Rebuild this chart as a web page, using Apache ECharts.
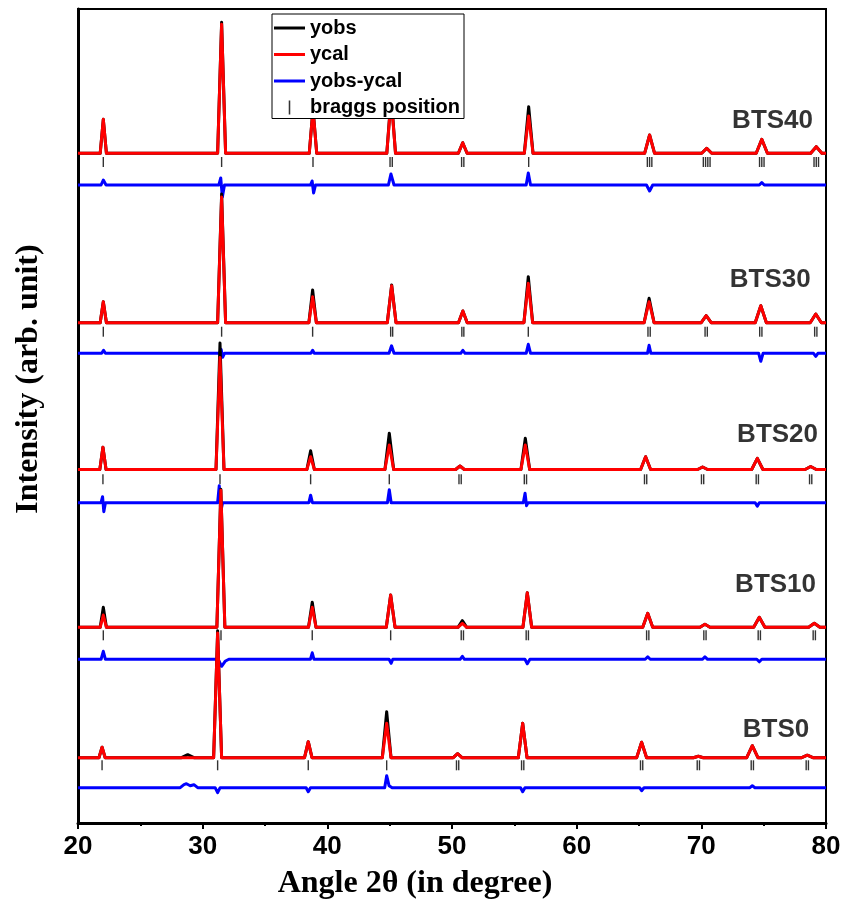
<!DOCTYPE html>
<html>
<head>
<meta charset="utf-8">
<script src="https://cdn.jsdelivr.net/npm/echarts@6/dist/echarts.min.js"></script>
<style>
  html, body { margin: 0; padding: 0; background: #fff; }
  #chart { width: 845px; height: 905px; }
</style>
</head>
<body>
<div id="chart"></div>
<script>
// Rietveld refinement of BTS0 ... BTS40 XRD patterns, stacked top (BTS40) to bottom (BTS0).

const samples = ['BTS40', 'BTS30', 'BTS20', 'BTS10', 'BTS0'];

// Reflections: [2θ, observed height, calculated height, half base width (deg)]
const peaks40 = [
  [22.03, 34, 34, 0.25], [31.52, 131, 129, 0.32], [38.85, 45, 44, 0.3], [45.12, 58, 55, 0.35],
  [50.86, 10.6, 10.6, 0.35], [56.15, 46.6, 37.3, 0.35], [65.85, 18.3, 18.3, 0.4],
  [70.43, 5, 5, 0.4], [74.85, 14, 14, 0.45], [79.22, 6.6, 6.6, 0.45]
];
const peaks30 = [
  [22.03, 21, 21, 0.25], [31.52, 128.7, 125.7, 0.32], [38.82, 32.7, 26, 0.3], [45.16, 37.7, 37, 0.35],
  [50.87, 11.7, 11.7, 0.35], [56.12, 46, 39.4, 0.35], [65.81, 24.4, 21, 0.4],
  [70.39, 7, 7, 0.4], [74.77, 17, 17, 0.45], [79.18, 8.7, 8.7, 0.45]
];
const peaks20 = [
  [22.0, 22.2, 22.2, 0.25], [31.39, 126.5, 112, 0.32], [38.66, 18.8, 12.8, 0.3], [44.97, 36.2, 24.5, 0.35],
  [50.64, 3.5, 3.5, 0.35], [55.88, 31.2, 24.5, 0.35], [65.53, 12.8, 12.8, 0.4],
  [70.1, 2.5, 2.5, 0.4], [74.49, 11.2, 11.2, 0.45], [78.77, 3, 3, 0.45]
];
const peaks10 = [
  [22.03, 20, 12.3, 0.25], [31.46, 138, 137, 0.32], [38.79, 25, 20, 0.3], [45.08, 32.3, 32.3, 0.35],
  [50.83, 6.6, 4, 0.35], [56.04, 34.6, 34.6, 0.35], [65.7, 14, 14, 0.4],
  [70.29, 3, 3, 0.4], [74.65, 10, 10, 0.45], [79.06, 4, 4, 0.45]
];
const peaks0 = [
  [21.93, 10.4, 10.4, 0.25], [28.8, 3, 0, 0.5], [31.2, 127, 124.7, 0.32], [38.47, 16, 16, 0.3],
  [44.76, 46, 34.4, 0.35], [50.45, 4, 4, 0.35], [55.67, 34.4, 34.4, 0.35], [65.21, 15.4, 15.4, 0.4],
  [69.76, 1.5, 1.5, 0.4], [74.09, 12, 12, 0.45], [78.5, 2.5, 2.5, 0.45]
];

// Difference curves yobs - ycal: [2θ, residual]
const diff40 = [
  [21.85, 0], [22.03, 5], [22.25, 0],
  [31.3, 0], [31.45, 7], [31.58, -12], [31.75, 0],
  [38.65, 0], [38.78, 4], [38.9, -8], [39.05, 0],
  [44.9, 0], [45.1, 11], [45.35, 0],
  [50.7, 0], [50.86, -2], [51.0, 0],
  [55.95, 0], [56.12, 12], [56.3, 0],
  [65.6, 0], [65.85, -6], [66.1, 0],
  [74.65, 0], [74.85, 2.5], [75.05, 0]
];
const diff30 = [
  [21.9, 0], [22.05, 3], [22.2, 0],
  [31.35, 0], [31.48, 4], [31.6, -4], [31.75, 0],
  [38.68, 0], [38.82, 3], [38.95, 0],
  [44.95, 0], [45.15, 7.5], [45.35, 0],
  [50.7, 0], [50.87, 3], [51.05, 0],
  [55.95, 0], [56.12, 9], [56.3, 0],
  [65.68, 0], [65.81, 8], [65.95, 0],
  [74.6, 0], [74.77, -8], [74.95, 0],
  [79.0, 0], [79.18, -3], [79.35, 0]
];
const diff20 = [
  [21.85, 0], [21.97, 6], [22.07, -9], [22.2, 0],
  [31.2, 0], [31.33, 17], [31.45, -9], [31.6, 0],
  [38.52, 0], [38.66, 7.5], [38.8, 0],
  [44.82, 0], [44.97, 13], [45.12, 0],
  [50.5, 0], [50.64, 1.5], [50.8, 0],
  [55.72, 0], [55.86, 9.5], [55.98, -3], [56.1, 0],
  [74.32, 0], [74.49, -3.5], [74.65, 0]
];
const diff10 = [
  [21.85, 0], [22.03, 8], [22.2, 0],
  [31.25, 0], [31.38, 2], [31.52, -7], [31.8, -2], [32.1, 0],
  [38.64, 0], [38.79, 6.5], [38.93, 0],
  [44.95, 0], [45.05, 2], [45.12, -4], [45.25, 0],
  [50.65, 0], [50.83, 3], [51.0, 0],
  [55.85, 0], [56.04, -4.5], [56.25, 0],
  [65.5, 0], [65.7, 2.5], [65.9, 0],
  [70.1, 0], [70.29, 2.5], [70.5, 0],
  [74.45, 0], [74.65, -2.5], [74.85, 0]
];
const diff0 = [
  [28.2, 0], [28.5, 3], [28.7, 4], [29.0, 2], [29.3, 3], [29.6, 0],
  [31.0, 0], [31.2, -5], [31.4, 0],
  [38.3, 0], [38.47, -4], [38.65, 0],
  [44.6, 0], [44.76, 12], [44.95, 2], [45.2, 0],
  [55.5, 0], [55.67, -4], [55.85, 0],
  [65.05, 0], [65.21, -3], [65.4, 0],
  [73.9, 0], [74.09, 2], [74.3, 0]
];

// Bragg reflection positions (2θ)
const bragg40 = [22.03, 31.52, 38.85, 45.03, 45.21, 50.77, 50.95, 56.15,
  65.67, 65.85, 66.03, 70.16, 70.34, 70.52, 70.7, 74.67, 74.85, 75.03, 79.04, 79.22, 79.4];
const bragg30 = [22.03, 31.52, 38.82, 45.08, 45.24, 50.79, 50.95, 56.12,
  65.72, 65.9, 70.3, 70.48, 74.68, 74.86, 79.09, 79.27];
const bragg20 = [22.0, 31.39, 38.66, 44.97, 50.56, 50.74, 55.8, 55.98,
  65.44, 65.62, 70.01, 70.19, 74.4, 74.58, 78.68, 78.86];
const bragg10 = [22.03, 31.47, 38.79, 45.08, 50.74, 50.92, 55.95, 56.13,
  65.61, 65.79, 70.2, 70.38, 74.56, 74.74, 78.97, 79.15];
const bragg0 = [21.93, 31.2, 38.47, 44.76, 50.36, 50.54, 55.58, 55.76,
  65.12, 65.3, 69.67, 69.85, 74.0, 74.18, 78.41, 78.59];

// Vertical stacking offsets (arb. units) for each pattern
const obsLevel = [669.7, 500.3, 353.5, 195.7, 65.3];
const diffLevel = [638, 469.7, 320.3, 163.7, 35.3];
const braggLevel = [661, 491.3, 343.7, 187.7, 57.7];
// Sample name anchors: [right edge 2θ, intensity]
const nameAnchor = [[78.96, 702.3], [78.77, 543], [79.36, 388], [79.2, 238], [78.66, 93]];

const peakTables = [peaks40, peaks30, peaks20, peaks10, peaks0];
const diffTables = [diff40, diff30, diff20, diff10, diff0];
const braggTables = [bragg40, bragg30, bragg20, bragg10, bragg0];

const X_MIN = 20, X_MAX = 80;

// Stick profile: baseline, then each reflection as a sharp peak
function profile(rows, level, col) {
  const pts = [[X_MIN, level]];
  rows.slice().sort((a, b) => a[0] - b[0]).forEach(r => {
    pts.push([r[0] - r[3], level], [r[0], level + r[col]], [r[0] + r[3], level]);
  });
  pts.push([X_MAX, level]);
  return pts;
}
function residual(rows, level) {
  const pts = [[X_MIN, level]];
  rows.forEach(p => pts.push([p[0], level + p[1]]));
  pts.push([X_MAX, level]);
  return pts;
}

const SANS = '"Liberation Sans", Arial, sans-serif';
const SERIF = '"Liberation Serif", "Times New Roman", serif';

const series = [];
samples.forEach((s, i) => {
  const line = (name, data, color) => ({
    type: 'line', name, data, color,
    symbol: 'none', showSymbol: false, silent: true,
    lineStyle: { color, width: 3, join: 'round' }
  });
  series.push(line('yobs', profile(peakTables[i], obsLevel[i], 1), '#000000'));
  series.push(line('ycal', profile(peakTables[i], obsLevel[i], 2), '#ff0000'));
  series.push(line('yobs-ycal', residual(diffTables[i], diffLevel[i]), '#0000ff'));
  series.push({
    type: 'scatter', name: 'braggs position', silent: true,
    symbol: 'rect', symbolSize: [1.4, 10],
    itemStyle: { color: '#000' }, color: '#000',
    data: braggTables[i].map(x => [x, braggLevel[i]])
  });
});
series.push({
  type: 'scatter', name: 'sample', silent: true, symbolSize: 0,
  data: samples.map((s, i) => ({ name: s, value: nameAnchor[i] })),
  label: {
    show: true, position: 'left', distance: 0, formatter: '{b}',
    fontFamily: SANS, fontWeight: 'bold', fontSize: 26, color: '#000'
  }
});

const chart = echarts.init(document.getElementById('chart'), null, { renderer: 'canvas' });
chart.setOption({
  animation: false,
  backgroundColor: '#fff',
  grid: {
    left: 78, right: 19, top: 9, bottom: 82,
    show: true, borderColor: '#000', borderWidth: 2, backgroundColor: 'transparent'
  },
  legend: {
    data: [
      { name: 'yobs', icon: 'path://M0,0H31V3H0Z' },
      { name: 'ycal', icon: 'path://M0,0H31V3H0Z' },
      { name: 'yobs-ycal', icon: 'path://M0,0H31V3H0Z' },
      { name: 'braggs position', icon: 'path://M0,0H1V9H0Z' }
    ],
    orient: 'vertical', left: 272, top: 14,
    itemWidth: 31, itemHeight: 14, itemGap: 6.5,
    padding: [4, 4, 1, 2],
    backgroundColor: '#fff', borderColor: '#000', borderWidth: 1,
    selectedMode: false,
    textStyle: { fontFamily: SANS, fontWeight: 'bold', fontSize: 20, color: '#000' }
  },
  xAxis: {
    type: 'value', min: X_MIN, max: X_MAX, interval: 10,
    axisLine: { show: true, onZero: false, lineStyle: { color: '#000', width: 3 } },
    axisTick: { show: true, length: 6, lineStyle: { color: '#000', width: 2 } },
    minorTick: { show: true, splitNumber: 2, length: 3, lineStyle: { color: '#000', width: 2 } },
    splitLine: { show: false },
    axisLabel: { fontFamily: SANS, fontWeight: 'bold', fontSize: 26, color: '#000', margin: 11 }
  },
  yAxis: {
    type: 'value', min: 0, max: 814,
    axisLine: { show: true, onZero: false, lineStyle: { color: '#000', width: 3 } },
    axisTick: { show: false },
    axisLabel: { show: false },
    splitLine: { show: false }
  },
  graphic: [
    {
      type: 'text', x: 415, y: 884,
      style: {
        text: 'Angle 2θ (in degree)', fill: '#000',
        font: 'bold 32px ' + SERIF, textAlign: 'center', textVerticalAlign: 'middle'
      }
    },
    {
      type: 'text', x: 29, y: 379, rotation: Math.PI / 2,
      style: {
        text: 'Intensity (arb. unit)', fill: '#000',
        font: 'bold 32px ' + SERIF, textAlign: 'center', textVerticalAlign: 'middle'
      }
    }
  ],
  series
});
</script>
</body>
</html>
